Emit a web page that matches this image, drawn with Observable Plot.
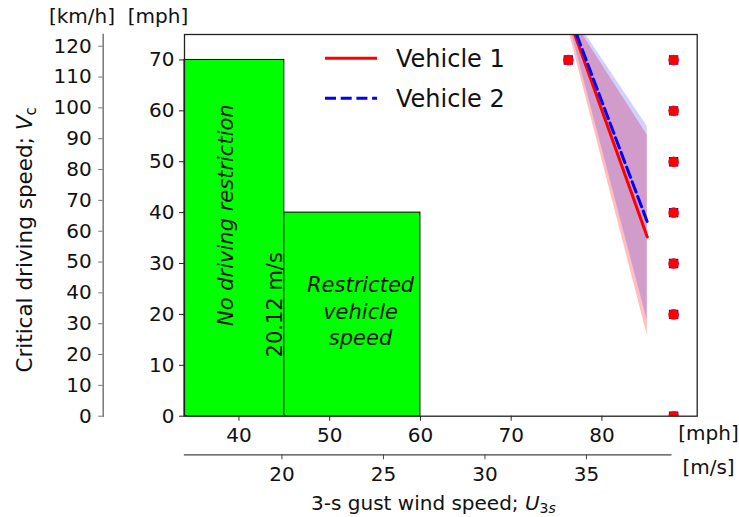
<!DOCTYPE html>
<html><head><meta charset="utf-8">
<script src="https://cdn.jsdelivr.net/npm/d3@7"></script>
<script src="https://cdn.jsdelivr.net/npm/@observablehq/plot@0.6"></script>
<style>body{margin:0;background:#fff;} #chart{position:relative;width:739px;height:517px;}</style>
</head><body><div id="chart"></div>
<script>
// ---------- data (wind speed in mph, driving speed in mph) ----------
const zoneStart = [34, 45];
const zoneEnd = [45, 60];
const zoneSpeed = [70, 40];

const curveWind = [76, 85];
const v1Mid = [80.0, 35.2];
const v1Low = [78.1, 15.9];
const v1High = [80.2, 55.2];
const v2Mid = [80.7, 38.2];
const v2Low = [79.7, 18.8];
const v2High = [80.9, 56.9];

const pointWind = [76.3, 87.9, 87.9, 87.9, 87.9, 87.9, 87.9, 87.9];
const pointSpeed = [70, 70, 60, 50, 40, 30, 20, 0];

const annotText = ["No driving restriction", "20.12 m/s", "Restricted\nvehicle\nspeed"];
const annotWind = [38.57, 43.95, 53.4];
const annotSpeed = [39.5, 21.9, 20.8];
const annotItalic = [true, false, true];
const annotRotate = [-90, -90, 0];

const mphXTicks = [40, 50, 60, 70, 80];
const msTicks = [20, 25, 30, 35];
const mphYTicks = [0, 10, 20, 30, 40, 50, 60, 70];
const kmhTicks = [0, 10, 20, 30, 40, 50, 60, 70, 80, 90, 100, 110, 120];

const seriesNames = ["Vehicle 1", "Vehicle 2"];
const seriesColors = ["red", "blue"];

const X_TITLE = "3-s gust wind speed; U3s";
const Y_TITLE = "Critical driving speed; Vc";

// axis conversion settings
const MPH_PER_MS = 2.23694;
const X_DOMAIN = [34, 90.5];
const Y_DOMAIN = [0, 75];
const KMH_TOP = 123.8;        // km/h value at the top of the secondary axis
const MS_AXIS_END = 39.16;    // m/s value where the m/s axis line ends

// ---------- tables ----------
const zones = zoneStart.map((s, i) => ({start: s, end: zoneEnd[i], speed: zoneSpeed[i]}));
const v1 = curveWind.map((w, i) => ({wind: w, mid: v1Mid[i], low: v1Low[i], high: v1High[i]}));
const v2 = curveWind.map((w, i) => ({wind: w, mid: v2Mid[i], low: v2Low[i], high: v2High[i]}));
const pts = pointWind.map((w, i) => ({wind: w, speed: pointSpeed[i]}));
const annots = annotText.map((t, i) => ({text: t, wind: annotWind[i], speed: annotSpeed[i], italic: annotItalic[i], rotate: annotRotate[i]}));

const mL = 184, mR = 42.3, mT = 34, mB = 101.3;
const plotW = 739 - mL - mR;
const msInsetRight = plotW * (X_DOMAIN[1] - MS_AXIS_END * MPH_PER_MS) / (X_DOMAIN[1] - X_DOMAIN[0]);

const chart = Plot.plot({
  width: 739, height: 517,
  marginLeft: mL, marginRight: mR, marginTop: mT, marginBottom: mB,
  x: {domain: X_DOMAIN},
  y: {domain: Y_DOMAIN},
  style: {fontFamily: "'DejaVu Sans', sans-serif", fontSize: "20px", color: "#111", background: "#fff"},
  marks: [
    Plot.rectY(zones, {x1: "start", x2: "end", y: "speed", fill: "#00ff00", stroke: "#000", strokeWidth: 1}),
    Plot.areaY(v1, {x: "wind", y1: "low", y2: "high", fill: "red", fillOpacity: 0.25, clip: true}),
    Plot.areaY(v2, {x: "wind", y1: "low", y2: "high", fill: "blue", fillOpacity: 0.18, clip: true}),
    Plot.lineY(v1, {x: "wind", y: "mid", stroke: seriesColors[0], strokeWidth: 3, clip: true}),
    Plot.lineY(v2, {x: "wind", y: "mid", stroke: seriesColors[1], strokeWidth: 3, strokeDasharray: "11,4.7", clip: true}),
    Plot.dot(pts, {x: "wind", y: "speed", symbol: "square", fill: "blue", r: 5.3, clip: true}),
    Plot.dot(pts, {x: "wind", y: "speed", symbol: "circle", fill: "red", r: 5.3, clip: true}),
    Plot.frame({stroke: "#222", strokeWidth: 1.3}),
    // mph x axis
    Plot.axisX(mphXTicks, {anchor: "bottom", tickSize: 5, tickPadding: 7, label: null, stroke: "#222"}),
    // m/s x axis
    Plot.axisX(msTicks.map(d => d * MPH_PER_MS), {anchor: "bottom", dy: 38.6, tickSize: 5, tickPadding: 7, label: null, stroke: "#444",
      tickFormat: d => String(Math.round(d / MPH_PER_MS))}),
    Plot.frame({anchor: "bottom", dy: 38.6, insetRight: msInsetRight, stroke: "#444", strokeWidth: 1.3}),
    // mph y axis
    Plot.axisY(mphYTicks, {anchor: "left", tickSize: 5, tickPadding: 5, label: null, stroke: "#222"}),
    // km/h y axis
    Plot.axisY(kmhTicks.map(k => k * Y_DOMAIN[1] / KMH_TOP), {anchor: "left", dx: -81.3, tickSize: 4.5, tickPadding: 7, label: null, stroke: "#777",
      tickFormat: d => String(Math.round(d * KMH_TOP / Y_DOMAIN[1]))}),
    Plot.frame({anchor: "left", dx: -81.3, stroke: "#777", strokeWidth: 1.5}),
    // unit labels
    Plot.text(["[km/h]"], {frameAnchor: "top-left", dx: -102.5, dy: -18, textAnchor: "middle", lineAnchor: "middle"}),
    Plot.text(["[mph]"], {frameAnchor: "top-left", dx: -26.5, dy: -18, textAnchor: "middle", lineAnchor: "middle"}),
    Plot.text(["[mph]"], {frameAnchor: "bottom-right", dx: 11.3, dy: 17.7, textAnchor: "middle", lineAnchor: "middle"}),
    Plot.text(["[m/s]"], {frameAnchor: "bottom-right", dx: 11.3, dy: 51, textAnchor: "middle", lineAnchor: "middle"}),
    // titles
    Plot.text([X_TITLE], {frameAnchor: "bottom", dx: -7.4, dy: 87.3, textAnchor: "middle", lineAnchor: "middle"}),
    Plot.text([Y_TITLE], {frameAnchor: "left", dx: -159, dy: 14.6, rotate: -90, fontSize: 21.5, textAnchor: "middle", lineAnchor: "middle"}),
    // annotations
    Plot.text(annots.filter(d => d.italic && d.rotate), {x: "wind", y: "speed", text: "text", rotate: -90, fontStyle: "italic", fontSize: 21, textAnchor: "middle", lineAnchor: "middle"}),
    Plot.text(annots.filter(d => !d.italic), {x: "wind", y: "speed", text: "text", rotate: -90, fontSize: 21, textAnchor: "middle", lineAnchor: "middle"}),
    Plot.text(annots.filter(d => d.italic && !d.rotate), {x: "wind", y: "speed", text: "text", fontStyle: "italic", fontSize: 21, lineHeight: 1.25, textAnchor: "middle", lineAnchor: "middle"})
  ]
});

const svg = d3.select(chart);
svg.selectAll("text").filter(function () { return this.textContent === X_TITLE; }).each(function () {
  const t = d3.select(this); t.text(null);
  t.append("tspan").text("3-s gust wind speed; ");
  t.append("tspan").attr("font-style", "italic").text("U");
  t.append("tspan").attr("font-size", "0.7em").attr("dy", "0.2em").text("3");
  t.append("tspan").attr("font-size", "0.7em").attr("font-style", "italic").text("s");
});
svg.selectAll("text").filter(function () { return this.textContent === Y_TITLE; }).each(function () {
  const t = d3.select(this); t.text(null);
  t.append("tspan").text("Critical driving speed; ");
  t.append("tspan").attr("font-style", "italic").text("V");
  t.append("tspan").attr("font-size", "0.7em").attr("dy", "0.25em").text("c");
});

// legend (no frame), inside the plot area
const lg = svg.append("g").attr("font-size", 24).attr("fill", "#111").attr("text-anchor", "start");
seriesNames.forEach((name, i) => {
  const yy = 58.3 + i * 40;
  lg.append("line").attr("x1", 325).attr("x2", 377).attr("y1", yy).attr("y2", yy)
    .attr("stroke", seriesColors[i]).attr("stroke-width", 3)
    .attr("stroke-dasharray", i === 1 ? "11,4.7" : null);
  lg.append("text").attr("x", 396).attr("y", yy + 9).attr("text-anchor", "start").text(name);
});

document.getElementById("chart").appendChild(chart);
</script>
</body></html>
